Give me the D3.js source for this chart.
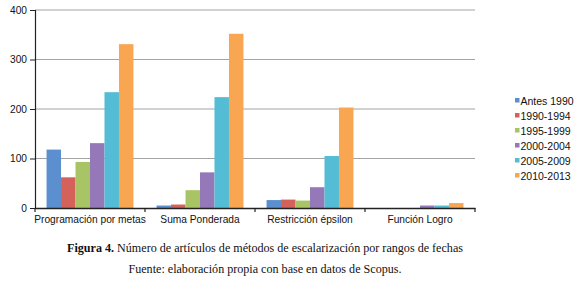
<!DOCTYPE html>
<html>
<head>
<meta charset="utf-8">
<script src="https://cdn.jsdelivr.net/npm/d3@7"></script>
<style>
  body { margin: 0; background: #fff; }
  svg { display: block; }
  .axis text { font-family: "Liberation Sans", Arial, sans-serif; font-size: 10.2px; fill: #111; }
</style>
</head>
<body>
<div id="chart"></div>
<script>
// metodos de escalarizacion por rangos de fechas
const categories = ["Programación por metas", "Suma Ponderada", "Restricción épsilon", "Función Logro"];
const series = ["Antes 1990", "1990-1994", "1995-1999", "2000-2004", "2005-2009", "2010-2013"];
const antes1990 = [118, 5, 16, 0];
const r1990_1994 = [62, 7, 17, 0];
const r1995_1999 = [93, 36, 15, 0];
const r2000_2004 = [131, 72, 42, 5];
const r2005_2009 = [234, 224, 105, 5];
const r2010_2013 = [331, 352, 203, 10];
const yTicks = [0, 100, 200, 300, 400];
const colors = ["#5b8fd0", "#d4625a", "#a8c464", "#9478b8", "#55bcd6", "#f9a653"];

const values = [antes1990, r1990_1994, r1995_1999, r2000_2004, r2005_2009, r2010_2013];
const data = categories.map((c, i) => ({
    cat: c,
    vals: series.map((s, j) => ({ key: s, value: values[j][i], color: colors[j] }))
}));

const width = 580, height = 288;
const margin = { top: 10, left: 35, right: 105, bottom: 80 };
const plotW = width - margin.left - margin.right;
const plotH = height - margin.top - margin.bottom;

const svg = d3.select("#chart").append("svg")
    .attr("width", width)
    .attr("height", height);

const g = svg.append("g")
    .attr("transform", `translate(${margin.left},${margin.top})`);

const x0 = d3.scaleBand().domain(categories).range([0, plotW]).paddingInner(0.21).paddingOuter(0.105);
const x1 = d3.scaleBand().domain(series).range([0, x0.bandwidth()]);
const y = d3.scaleLinear().domain([0, 400]).range([plotH, 0]);

// gridlines
g.selectAll(".grid")
    .data(yTicks.filter(d => d > 0))
    .enter().append("line")
    .attr("class", "grid")
    .attr("x1", 0).attr("x2", plotW)
    .attr("y1", d => y(d)).attr("y2", d => y(d))
    .attr("stroke", "#a3a3a3")
    .attr("stroke-width", 1.2);

// bars
const groups = g.selectAll(".cat")
    .data(data)
    .enter().append("g")
    .attr("class", "cat")
    .attr("transform", d => `translate(${x0(d.cat)},0)`);

groups.selectAll("rect")
    .data(d => d.vals)
    .enter().append("rect")
    .attr("x", d => x1(d.key))
    .attr("width", x1.bandwidth())
    .attr("y", d => y(d.value))
    .attr("height", d => plotH - y(d.value))
    .attr("fill", d => d.color);

// y axis
const yAxis = g.append("g")
    .attr("class", "axis")
    .call(d3.axisLeft(y).tickValues(yTicks).tickSize(5).tickPadding(3));
yAxis.select(".domain").attr("stroke", "#222").attr("stroke-width", 1.2);
yAxis.selectAll(".tick line").attr("stroke", "#222");

// x axis with ticks at category boundaries
const xAxis = g.append("g")
    .attr("class", "axis")
    .attr("transform", `translate(0,${plotH})`)
    .call(d3.axisBottom(x0).tickSize(0).tickPadding(8));
xAxis.select(".domain").attr("stroke", "#222").attr("stroke-width", 1.5);

const step = x0.step();
xAxis.selectAll(".bound")
    .data(d3.range(categories.length + 1))
    .enter().append("line")
    .attr("class", "bound")
    .attr("x1", i => i * step).attr("x2", i => i * step)
    .attr("y1", 0).attr("y2", 4)
    .attr("stroke", "#222")
    .attr("stroke-width", 1.2);

// legend
const legend = svg.append("g")
    .attr("transform", "translate(515,101)");

const items = legend.selectAll(".item")
    .data(series)
    .enter().append("g")
    .attr("transform", (d, i) => `translate(0,${i * 15})`);

items.append("rect")
    .attr("x", 0).attr("y", -3)
    .attr("width", 4.5).attr("height", 4.5)
    .attr("fill", (d, i) => colors[i]);

items.append("text")
    .attr("x", 5.5).attr("y", 0)
    .attr("dy", "0.35em")
    .style("font-family", "Liberation Sans, Arial, sans-serif")
    .style("font-size", "10.5px")
    .attr("fill", "#111")
    .text(d => d);

// caption
const cap = svg.append("text")
    .attr("x", 265).attr("y", 252)
    .attr("text-anchor", "middle")
    .style("font-family", "Liberation Serif, Times New Roman, serif")
    .style("font-size", "12.1px")
    .attr("fill", "#111");
cap.append("tspan").attr("font-weight", "bold").text("Figura 4.");
cap.append("tspan").text(" Número de artículos de métodos de escalarización por rangos de fechas");

svg.append("text")
    .attr("x", 265).attr("y", 273)
    .attr("text-anchor", "middle")
    .style("font-family", "Liberation Serif, Times New Roman, serif")
    .style("font-size", "12.1px")
    .attr("fill", "#111")
    .text("Fuente: elaboración propia con base en datos de Scopus.");
</script>
</body>
</html>
